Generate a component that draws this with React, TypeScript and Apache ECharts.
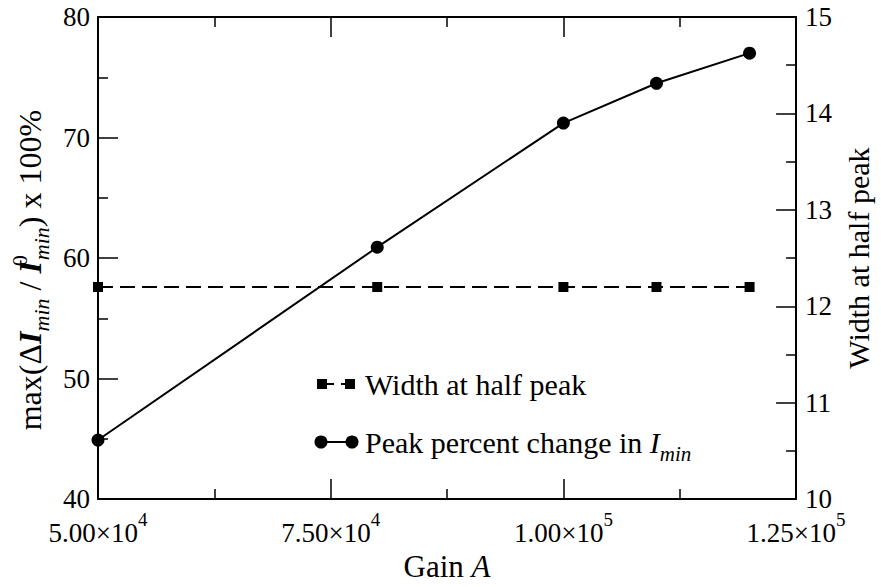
import React, { useEffect, useRef } from 'react';
import * as echarts from 'echarts';

const gain = [50000, 80000, 100000, 110000, 120000];
const peakPercentChange = [44.9, 60.9, 71.2, 74.5, 77.0];
const widthAtHalfPeak = [12.2, 12.2, 12.2, 12.2, 12.2];

const xTickValues = [50000, 75000, 100000, 125000];
const xTickMantissa = ['5.00', '7.50', '1.00', '1.25'];
const xTickExponent = ['4', '4', '5', '5'];

const legendNames = ['Width at half peak', 'Peak percent change in '];

const FONT = 'Liberation Serif';
const BLACK = '#000';

function tickStyle() {
  return {
    axisLine: { show: true, onZero: false, lineStyle: { color: BLACK, width: 2 } },
    axisTick: { show: true, inside: true, length: 20, lineStyle: { color: BLACK, width: 1.5 } },
    minorTick: { show: true, splitNumber: 2, length: 10, lineStyle: { color: BLACK, width: 1.5 } },
    splitLine: { show: false },
    minorSplitLine: { show: false },
  };
}

export default function App() {
  const ref = useRef<HTMLDivElement>(null);
  useEffect(() => {
    if (!ref.current) return;
    const chart = echarts.init(ref.current, null, { renderer: 'svg' });
    const titleRich = {
      n: { fontFamily: FONT, fontSize: 32, color: BLACK, lineHeight: 44, verticalAlign: 'middle' },
      i: { fontFamily: FONT, fontSize: 32, color: BLACK, lineHeight: 44, verticalAlign: 'middle', fontStyle: 'italic', fontWeight: 'bold' },
      sub: { fontFamily: FONT, fontSize: 22, color: BLACK, lineHeight: 22, verticalAlign: 'bottom', fontStyle: 'italic' },
      sup: { fontFamily: FONT, fontSize: 22, color: BLACK, lineHeight: 22, verticalAlign: 'top', width: 1 },
    };
    const option: any = {
      animation: false,
      grid: { left: 98, right: 76, top: 17, bottom: 75.5, containLabel: false },
      xAxis: [
        {
          type: 'value',
          position: 'bottom',
          min: 50000,
          max: 125000,
          interval: 25000,
          ...tickStyle(),
          axisLabel: {
            show: true,
            margin: 11,
            showMinLabel: true,
            showMaxLabel: true,
            formatter: (v: number) => {
              const idx = xTickValues.indexOf(v);
              if (idx < 0) return '';
              return `{m|${xTickMantissa[idx]}×10}{s|${xTickExponent[idx]}}`;
            },
            rich: {
              m: { fontFamily: FONT, fontSize: 27, color: BLACK, lineHeight: 36, verticalAlign: 'bottom' },
              s: { fontFamily: FONT, fontSize: 19, color: BLACK, lineHeight: 18, verticalAlign: 'top' },
            },
          },
          name: '{n|Gain }{i|A}',
          nameLocation: 'middle',
          nameGap: 42,
          nameTextStyle: {
            rich: {
              n: { fontFamily: FONT, fontSize: 31, color: BLACK, lineHeight: 32 },
              i: { fontFamily: FONT, fontSize: 31, color: BLACK, lineHeight: 32, fontStyle: 'italic' },
            },
          },
        },
        {
          type: 'value',
          position: 'top',
          min: 50000,
          max: 125000,
          interval: 25000,
          ...tickStyle(),
          axisLabel: { show: false },
        },
      ],
      yAxis: [
        {
          type: 'value',
          position: 'left',
          min: 40,
          max: 80,
          interval: 10,
          ...tickStyle(),
          axisLabel: { margin: 8, fontFamily: FONT, fontSize: 27, color: BLACK },
          name: '{n|max(Δ}{i|I}{sub|min}{n| / }{i|I}{sup|0}{sub|min}{n|) x 100%}',
          nameLocation: 'middle',
          nameRotate: 90,
          nameGap: 36,
          nameTextStyle: { rich: titleRich, padding: [0, 24, 0, 0] },
        },
        {
          type: 'value',
          position: 'right',
          min: 10,
          max: 15,
          interval: 1,
          ...tickStyle(),
          axisLabel: { margin: 9, fontFamily: FONT, fontSize: 27, color: BLACK },
          name: 'Width at half peak',
          nameLocation: 'middle',
          nameRotate: 90,
          nameGap: 44,
          nameTextStyle: { fontFamily: FONT, fontSize: 30, color: BLACK },
        },
      ],
      series: [
        {
          name: legendNames[0],
          type: 'line',
          xAxisIndex: 0,
          yAxisIndex: 1,
          data: gain.map((g, k) => [g, widthAtHalfPeak[k]]),
          symbol: 'rect',
          symbolSize: 10,
          itemStyle: { color: BLACK },
          lineStyle: { color: BLACK, width: 2, type: [15, 7] },
          clip: false,
        },
        {
          name: legendNames[1],
          type: 'line',
          xAxisIndex: 0,
          yAxisIndex: 0,
          data: gain.map((g, k) => [g, peakPercentChange[k]]),
          symbol: 'circle',
          symbolSize: 13,
          itemStyle: { color: BLACK },
          lineStyle: { color: BLACK, width: 2 },
          clip: false,
        },
      ],
      graphic: [
        { type: 'line', shape: { x1: 322, y1: 384, x2: 350, y2: 384 }, style: { stroke: BLACK, lineWidth: 2, lineDash: [12, 7] } },
        { type: 'rect', shape: { x: 317, y: 379, width: 10, height: 10 }, style: { fill: BLACK } },
        { type: 'rect', shape: { x: 345, y: 379, width: 10, height: 10 }, style: { fill: BLACK } },
        {
          type: 'text', x: 365, y: 384,
          style: { text: legendNames[0], fontFamily: FONT, fontSize: 30, fill: BLACK, verticalAlign: 'middle', align: 'left' },
        },
        { type: 'line', shape: { x1: 321, y1: 442, x2: 352, y2: 442 }, style: { stroke: BLACK, lineWidth: 2 } },
        { type: 'circle', shape: { cx: 321, cy: 442, r: 6.5 }, style: { fill: BLACK } },
        { type: 'circle', shape: { cx: 352, cy: 442, r: 6.5 }, style: { fill: BLACK } },
        {
          type: 'text', x: 365, y: 442,
          style: {
            text: `{n|${legendNames[1]}}{i|I}{sub|min}`,
            verticalAlign: 'middle', align: 'left',
            rich: {
              n: { fontFamily: FONT, fontSize: 30, fill: BLACK, lineHeight: 44, verticalAlign: 'middle' },
              i: { fontFamily: FONT, fontSize: 30, fill: BLACK, lineHeight: 44, verticalAlign: 'middle', fontStyle: 'italic' },
              sub: { fontFamily: FONT, fontSize: 21, fill: BLACK, lineHeight: 21, verticalAlign: 'bottom', fontStyle: 'italic' },
            },
          },
        },
      ],
    };
    chart.setOption(option);
    return () => chart.dispose();
  }, []);
  return <div ref={ref} style={{ position: 'fixed', left: 0, top: 0, width: 881, height: 587, background: '#fff' }} />;
}
